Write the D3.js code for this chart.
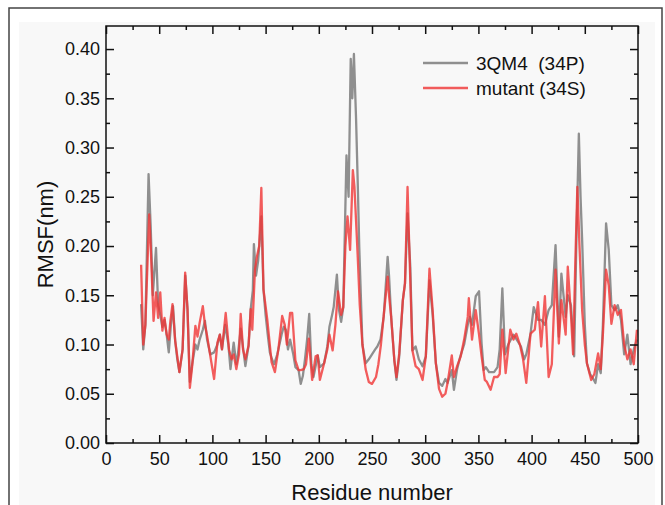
<!DOCTYPE html>
<html lang="en">
<head>
<meta charset="utf-8">
<title>RMSF</title>
<script src="https://cdn.jsdelivr.net/npm/d3@7"></script>
<style>
  body { margin: 0; background: #fff; }
  text { font-family: "Liberation Sans", Arial, sans-serif; fill: #111; }
</style>
</head>
<body>
<script>
// 3QM4 (34P) - grey trace
var wtResidue = [33,35,37,40,42,44,47,49,51,53,55,57,59,61,63,65,67,69,72,74.5,76.6,78.8,81,84,86,88,91,93,95,98,
  101.6,104.7,107,109,112,115,117,120,122.5,124,126.6,129,131,134,136,138,139,141,143,146,148,150,152,154,156,158,161,165,167,169,
  171,173,176,178,181,183,185,187,189,191,193,195,199,201,205,208,210,212.5,214,217,219,221,223,226,228,230,231.5,233,235,236.6,238,241,
  244,247,250.6,253,255,258,261,264.7,266,268,271,273,275.6,279,281,283.4,286,288,291,294,297.5,300.6,304,307,310,313,316,319,321,325,327,330,
  333,336.6,340,342,344,347.5,350.6,353,355,357,360,364.7,368,370,372.5,375,378,383,386,390,393,395,399,402,406,409,412.5,416,419,422.5,
  425.6,428,432,434,437,440,442,444.4,446,447.5,450,452,455,458,460,462.5,465,467,470,472.5,475,478,481,484,487,490,493,496,499];
var wtRmsf = [0.141,0.095,0.12,0.273,0.22,0.15,0.198,0.14,0.13,0.118,0.125,0.11,0.092,0.12,0.139,0.104,0.085,0.072,0.095,0.17,0.136,0.062,0.08,0.1,0.095,0.105,0.115,0.124,0.105,0.09,
  0.092,0.1,0.11,0.095,0.12,0.1,0.075,0.102,0.08,0.09,0.116,0.095,0.078,0.099,0.136,0.155,0.202,0.17,0.185,0.23,0.156,0.13,0.11,0.092,0.085,0.08,0.09,0.11,0.118,0.115,
  0.095,0.105,0.09,0.077,0.074,0.06,0.068,0.085,0.105,0.131,0.08,0.067,0.089,0.077,0.081,0.098,0.118,0.13,0.138,0.171,0.135,0.123,0.138,0.292,0.25,0.39,0.35,0.395,0.33,0.264,0.2,0.1,
  0.081,0.085,0.091,0.095,0.098,0.105,0.128,0.189,0.17,0.128,0.084,0.064,0.088,0.145,0.162,0.233,0.179,0.094,0.098,0.085,0.078,0.088,0.165,0.13,0.081,0.061,0.058,0.065,0.061,0.074,0.054,0.075,
  0.088,0.1,0.12,0.128,0.12,0.149,0.154,0.101,0.074,0.077,0.072,0.072,0.077,0.095,0.157,0.09,0.1,0.11,0.105,0.098,0.085,0.09,0.111,0.138,0.125,0.125,0.12,0.135,0.14,0.201,
  0.108,0.172,0.128,0.15,0.14,0.088,0.2,0.314,0.25,0.206,0.12,0.081,0.07,0.065,0.061,0.08,0.071,0.12,0.223,0.196,0.14,0.135,0.14,0.125,0.09,0.11,0.08,0.095,0.105];

// mutant (34S) - red trace
var mutResidue = [33,35,37,40.6,42,44.7,47,49,51,53,55,57,59,60.5,62.5,65,69,72,74.4,76.6,78.8,81,84,86,88,91,93,95,99,
  101.6,104.7,107,109,112.5,115.6,118,120,122.5,125,126.6,128.75,131,134,136,137.5,140,142,144,146,148,151.5,155.6,158.75,162,165.6,168,
  170,173,175,178,181,183,186,188,190.6,193.75,197,199,201,205,208,210,213,215.6,218,221,223,225,227,229.4,232,233.5,235,236.6,238.5,241,
  244,247,250,253.75,256,258.4,260.6,264.7,266,268,271,273,275.6,279,281,283.4,285,288,291,294,297.5,300.6,304,307,310,313,316,319,321,325,327,330,
  333.4,336.6,340,341,344,347.5,350.6,353,356,358,361.5,364.7,368,370,372.5,375.6,380,383,385.6,389,392,395,399,403,406,409,412.5,416,419,422.5,
  425.6,428,432,434,437,439,441,443,445,447.5,450,452,456,459,462.5,465,467,470,472.5,475,478,481,484,487,490,493,496,499];
var mutRmsf = [0.181,0.1,0.12,0.232,0.2,0.124,0.153,0.127,0.153,0.114,0.127,0.11,0.105,0.124,0.141,0.104,0.072,0.095,0.173,0.136,0.056,0.078,0.119,0.108,0.122,0.139,0.12,0.109,0.082,
  0.065,0.102,0.11,0.095,0.132,0.095,0.085,0.09,0.075,0.09,0.131,0.095,0.085,0.099,0.136,0.115,0.176,0.19,0.2,0.259,0.156,0.126,0.082,0.072,0.095,0.129,0.12,
  0.1,0.132,0.132,0.084,0.074,0.074,0.075,0.08,0.106,0.064,0.088,0.089,0.064,0.081,0.095,0.11,0.094,0.12,0.154,0.13,0.138,0.2,0.23,0.196,0.277,0.26,0.226,0.189,0.14,0.1,
  0.075,0.062,0.06,0.067,0.08,0.1,0.125,0.169,0.15,0.128,0.084,0.067,0.091,0.145,0.162,0.26,0.2,0.094,0.078,0.075,0.064,0.088,0.177,0.135,0.081,0.055,0.047,0.05,0.061,0.089,0.067,0.078,
  0.088,0.105,0.128,0.147,0.105,0.135,0.11,0.088,0.064,0.062,0.054,0.067,0.067,0.07,0.115,0.071,0.115,0.105,0.111,0.1,0.085,0.061,0.111,0.115,0.143,0.098,0.149,0.067,0.08,0.176,
  0.101,0.145,0.11,0.179,0.13,0.09,0.18,0.26,0.2,0.135,0.1,0.081,0.064,0.07,0.091,0.075,0.11,0.176,0.16,0.121,0.14,0.13,0.135,0.1,0.085,0.095,0.08,0.115];

var xTicks = [0,50,100,150,200,250,300,350,400,450,500];
var xMinor = [25,75,125,175,225,275,325,375,425,475];
var yTicks = [0,0.05,0.1,0.15,0.2,0.25,0.3,0.35,0.4];
var yMinor = [0.025,0.075,0.125,0.175,0.225,0.275,0.325,0.375];
var seriesNames = ['3QM4\u00a0\u00a0(34P)', 'mutant (34S)'];
var seriesColors = ['#8f8f8f', '#f03434'];

var W = 665, H = 505;
var L = 106, R = 638, T = 26, B = 443;

var svg = d3.select('body').append('svg').attr('width', W).attr('height', H);

// page frame
svg.append('rect').attr('x', 19).attr('y', 22).attr('width', 636).attr('height', 500).style('fill', '#f8f8f8');
svg.append('rect').attr('x', 9).attr('y', 8).attr('width', 653).attr('height', 510)
    .style('fill', 'none').style('stroke', '#444').style('stroke-width', 1.5);

var x = d3.scaleLinear().domain([0, 500]).range([L, R]);
var y = d3.scaleLinear().domain([0, 0.4234]).range([B, T]);

function line(xs, ys) {
    return d3.line().x(function (d) { return x(d); }).y(function (d, i) { return y(ys[i]); })(xs);
}

svg.append('path').attr('d', line(wtResidue, wtRmsf))
    .style('fill', 'none').style('stroke', seriesColors[0]).style('stroke-width', 2.3).style('stroke-linejoin', 'round');
svg.append('path').attr('d', line(mutResidue, mutRmsf))
    .style('fill', 'none').style('stroke', seriesColors[1]).style('stroke-width', 2.3).style('stroke-linejoin', 'round')
    .style('opacity', 0.8);

// axes, ticks inside
function styleAxis(g) {
    g.select('.domain').remove();
    g.selectAll('line').style('stroke', '#111').style('stroke-width', 1.5);
    g.selectAll('text').style('font-size', '18px').style('fill', '#111')
        .style('font-family', '"Liberation Sans", Arial, sans-serif');
}
svg.append('g').attr('transform', 'translate(0,' + B + ')')
    .call(d3.axisBottom(x).tickValues(xTicks).tickSize(-8).tickPadding(9).tickFormat(d3.format('d'))).call(styleAxis);
svg.append('g').attr('transform', 'translate(0,' + B + ')')
    .call(d3.axisBottom(x).tickValues(xMinor).tickSize(-4).tickFormat('')).call(styleAxis);
svg.append('g').attr('transform', 'translate(0,' + T + ')')
    .call(d3.axisTop(x).tickValues(xTicks).tickSize(-8).tickFormat('')).call(styleAxis);
svg.append('g').attr('transform', 'translate(0,' + T + ')')
    .call(d3.axisTop(x).tickValues(xMinor).tickSize(-4).tickFormat('')).call(styleAxis);
svg.append('g').attr('transform', 'translate(' + L + ',0)')
    .call(d3.axisLeft(y).tickValues(yTicks).tickSize(-8).tickPadding(6).tickFormat(d3.format('.2f'))).call(styleAxis);
svg.append('g').attr('transform', 'translate(' + L + ',0)')
    .call(d3.axisLeft(y).tickValues(yMinor).tickSize(-4).tickFormat('')).call(styleAxis);
svg.append('g').attr('transform', 'translate(' + R + ',0)')
    .call(d3.axisRight(y).tickValues(yTicks).tickSize(-8).tickFormat('')).call(styleAxis);
svg.append('g').attr('transform', 'translate(' + R + ',0)')
    .call(d3.axisRight(y).tickValues(yMinor).tickSize(-4).tickFormat('')).call(styleAxis);

svg.append('rect').attr('x', L).attr('y', T).attr('width', R - L).attr('height', B - T)
    .style('fill', 'none').style('stroke', '#111').style('stroke-width', 1.5);

// titles
svg.append('text').attr('x', (L + R) / 2).attr('y', 500).attr('text-anchor', 'middle')
    .style('font-size', '22px').text('Residue number');
svg.append('text').attr('transform', 'translate(53,' + ((T + B) / 2) + ') rotate(-90)')
    .attr('text-anchor', 'middle').style('font-size', '22px').text('RMSF(nm)');

// legend
var legend = svg.append('g').attr('transform', 'translate(423,63)');
seriesNames.forEach(function (name, i) {
    legend.append('line').attr('x1', 0).attr('x2', 45).attr('y1', i * 25).attr('y2', i * 25)
        .style('stroke', seriesColors[i]).style('stroke-width', 2.3).style('opacity', i ? 0.8 : 1);
    legend.append('text').attr('x', 53).attr('y', i * 25 + 7).style('font-size', '19px').text(name);
});
</script>
</body>
</html>
